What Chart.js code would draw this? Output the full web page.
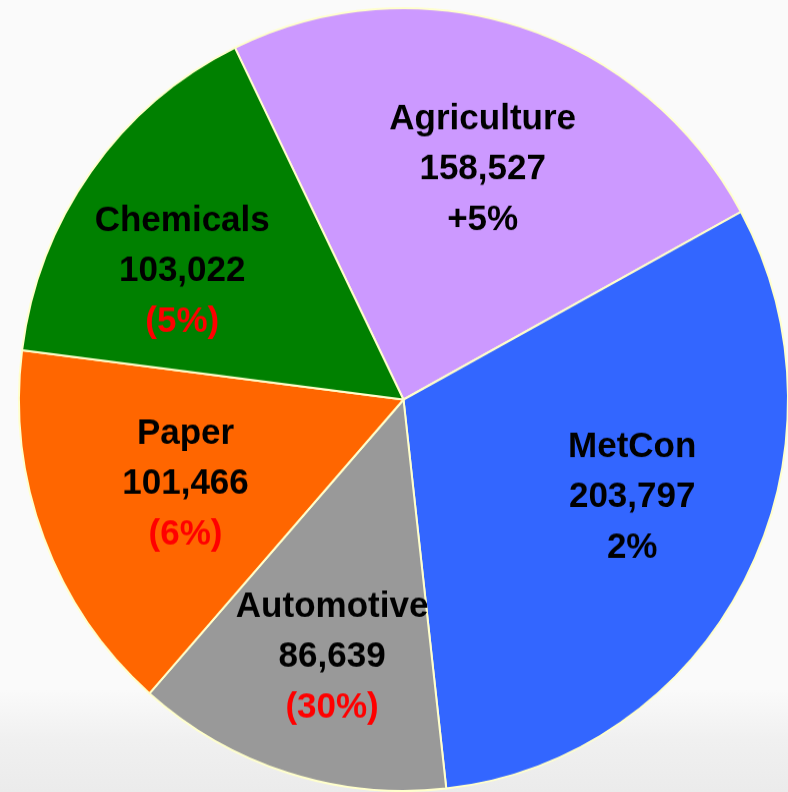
<!DOCTYPE html>
<html>
<head>
<meta charset="utf-8">
<script src="https://cdn.jsdelivr.net/npm/chart.js@4"></script>
<style>
  html, body { margin: 0; padding: 0; }
  body {
    width: 788px; height: 792px; overflow: hidden;
    background: linear-gradient(#fafafa 0px, #fafafa 690px, #f0f0f0 740px, #ebebeb 792px);
  }
  #canvas { display: block; }
</style>
</head>
<body>
<!-- slightly stretched vertically, like the original slide -->
<canvas id="canvas" width="800" height="778" style="width:800px;height:792px;"></canvas>
<script>
/* volumes by segment */
var categories = ['Agriculture', 'MetCon', 'Automotive', 'Paper', 'Chemicals'];
var volumes = [158527, 203797, 86639, 101466, 103022];
var changeLabels = ['+5%', '2%', '(30%)', '(6%)', '(5%)'];
var changeNegative = [false, false, true, true, true];
var sliceColors = ['#CC99FF', '#3366FF', '#999999', '#FF6600', '#008000'];

// label placement inside each slice (fraction of radius, turn from mid angle in degrees)
var labelRadius = [0.624, 0.645, 0.683, 0.606, 0.662];
var labelTurn = [1.6, -4.7, -1.7, 0, -6];

var sliceLabels = {
  id: 'sliceLabels',
  afterDatasetsDraw: function (chart) {
    var ctx = chart.ctx;
    var meta = chart.getDatasetMeta(0);
    ctx.save();
    ctx.font = 'bold 35px "Liberation Sans", Arial, sans-serif';
    ctx.textAlign = 'center';
    ctx.textBaseline = 'middle';
    meta.data.forEach(function (arc, i) {
      var mid = (arc.startAngle + arc.endAngle) / 2 + labelTurn[i] * Math.PI / 180;
      var r = arc.outerRadius * labelRadius[i];
      var x = arc.x + Math.cos(mid) * r;
      var y = arc.y + Math.sin(mid) * r;
      ctx.fillStyle = '#000000';
      ctx.fillText(categories[i], x, y - 49);
      ctx.fillText(volumes[i].toLocaleString('en-US'), x, y);
      ctx.fillStyle = changeNegative[i] ? '#FF0000' : '#000000';
      ctx.fillText(changeLabels[i], x, y + 50);
    });
    ctx.restore();
  }
};

const ctx = document.getElementById('canvas').getContext('2d');
const myChart = new Chart(ctx, {
  type: 'pie',
  data: {
    labels: categories,
    datasets: [
      {
        data: volumes,
        backgroundColor: sliceColors,
        borderColor: '#FFFFCC',
        borderWidth: 2,
        hoverOffset: 0,
      },
    ],
  },
  options: {
    responsive: false,
    animation: false,
    rotation: -26,
    layout: { padding: { left: 18, right: 11, top: 7, bottom: 0 } },
    plugins: {
      legend: { display: false },
      tooltip: { enabled: false },
    },
  },
  plugins: [sliceLabels],
});
</script>
</body>
</html>
